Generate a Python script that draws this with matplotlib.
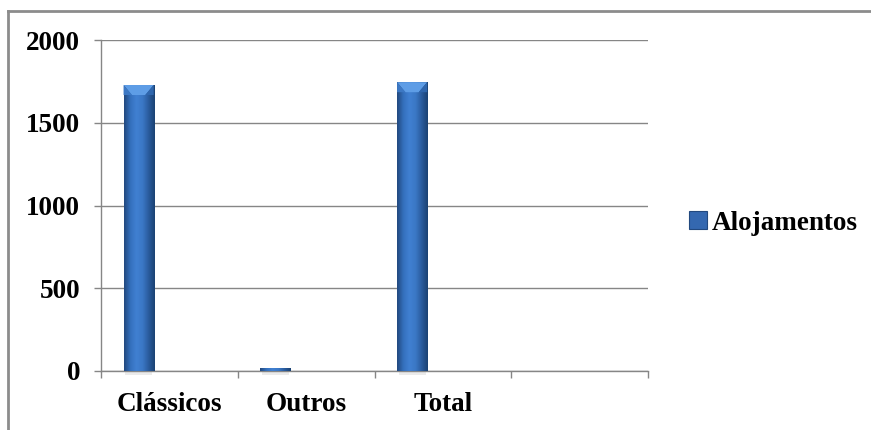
import numpy as np
import matplotlib
matplotlib.use('Agg')
import matplotlib.pyplot as plt
from matplotlib.colors import LinearSegmentedColormap
from matplotlib.patches import Polygon, Rectangle
from matplotlib.lines import Line2D

categorias = ['Clássicos', 'Outros', 'Total']
alojamentos = [1728, 17, 1745]
n_slots = 4
yticks = [0, 500, 1000, 1500, 2000]

plt.rcParams['font.family'] = ['Liberation Serif', 'DejaVu Serif']
plt.rcParams['font.weight'] = 'bold'
plt.rcParams['font.size'] = 19.5

cinza = '#868686'

fig = plt.figure(figsize=(8.71, 4.30), dpi=100)
ax = fig.add_axes([101/871, 59/430, 547/871, 331/430])

# barras deslocadas para a esquerda dentro de cada categoria
largura = 0.22
x = np.arange(len(categorias)) + 0.5 - 0.225
barras = ax.bar(x, alojamentos, width=largura, color='#3468b0', zorder=3)

# gradiente horizontal + chanfro no topo
cmap = LinearSegmentedColormap.from_list(
    'azul', ['#22497f', '#3470bd', '#4080d2', '#3b78c6', '#2a5c9e', '#1b4273'])
grad = np.linspace(0, 1, 64).reshape(1, -1)
px_por_unidade = 331 / 2000
bisel = 10 / px_por_unidade
for b in barras:
    x0, y0, w, h = b.get_x(), b.get_y(), b.get_width(), b.get_height()
    # sombra
    ax.add_patch(Rectangle((x0 + w*0.05, y0 - 4/px_por_unidade), w*0.9, 4/px_por_unidade,
                           color='#000000', alpha=0.08, lw=0, zorder=2, clip_on=False))
    im = ax.imshow(grad, cmap=cmap, aspect='auto', extent=(x0, x0 + w, y0, y0 + h),
                   interpolation='bicubic', zorder=4)
    im.set_clip_path(b)
    if h > bisel * 1.5:
        topo = y0 + h
        ax.add_patch(Polygon([(x0, topo), (x0 + w, topo), (x0 + w*0.72, topo - bisel),
                              (x0 + w*0.28, topo - bisel)], closed=True,
                             color='#5e9de6', lw=0, zorder=5))
        ax.add_patch(Polygon([(x0, topo), (x0 + w*0.28, topo - bisel), (x0, topo - bisel)],
                             closed=True, color='#3c78c4', lw=0, zorder=5))
        ax.add_patch(Polygon([(x0 + w, topo), (x0 + w*0.72, topo - bisel), (x0 + w, topo - bisel)],
                             closed=True, color='#2f66ad', lw=0, zorder=5))

ax.set_xlim(0, n_slots)
ax.set_ylim(0, 2000)
ax.set_yticks(yticks)
ax.grid(axis='y', color=cinza, lw=1, zorder=1)

ax.set_xticks(np.arange(len(categorias)) + 0.5)
ax.set_xticklabels(categorias)
ax.set_xticks(np.arange(n_slots + 1), minor=True)
ax.tick_params(axis='x', which='major', length=0, pad=15)
ax.tick_params(axis='x', which='minor', length=5, width=1, color=cinza, direction='out')
ax.tick_params(axis='y', length=5, width=1, color=cinza, direction='out', pad=10)

for s in ['top', 'right']:
    ax.spines[s].set_visible(False)
for s in ['left', 'bottom']:
    ax.spines[s].set_color(cinza)
    ax.spines[s].set_linewidth(1)

handle = Rectangle((0, 0), 1, 1, facecolor='#3468b0', edgecolor='#22497f', lw=0.8)
ax.legend([handle], ['Alojamentos'], loc='center left',
          bbox_to_anchor=(689/871, 1 - 223/430), bbox_transform=fig.transFigure,
          frameon=False, handlelength=0.65, handleheight=0.65, handletextpad=0.2,
          borderpad=0, borderaxespad=0)

# moldura do gráfico (só topo e esquerda visíveis)
fig.add_artist(Line2D([8/871, 1], [1 - 11/430, 1 - 11/430], color='#8c8c8c', lw=2,
                      transform=fig.transFigure))
fig.add_artist(Line2D([8/871, 8/871], [0, 1 - 11/430], color='#8c8c8c', lw=2,
                      transform=fig.transFigure))

fig.savefig('out.png', dpi=100)
